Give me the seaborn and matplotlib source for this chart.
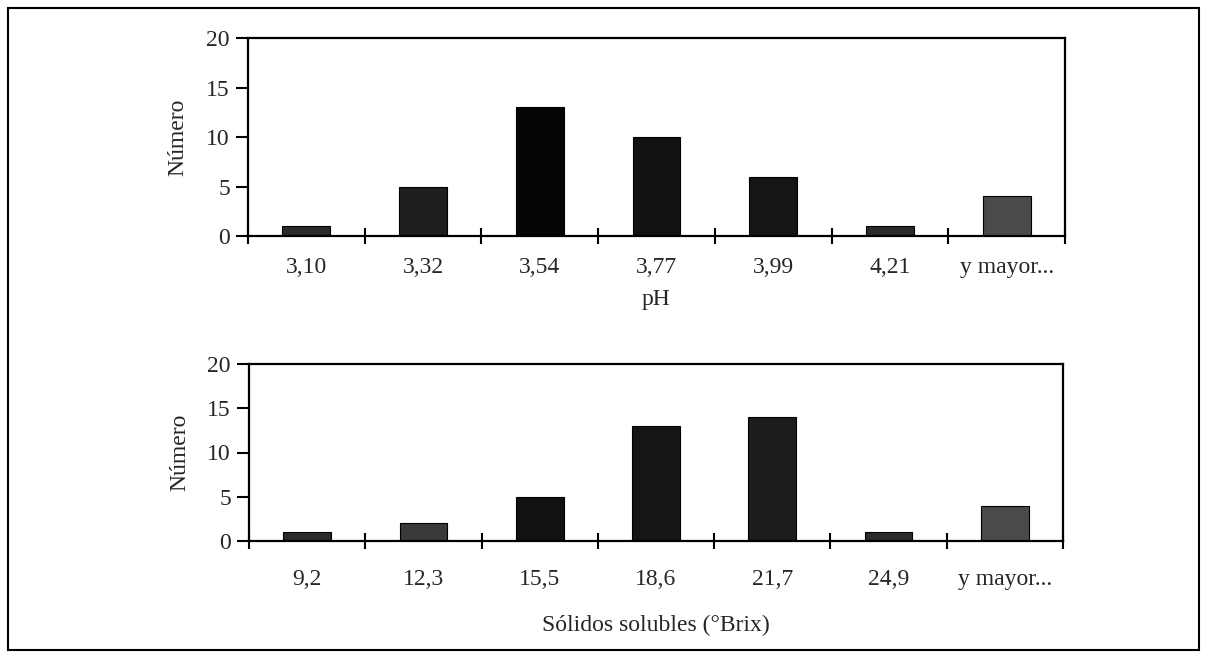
import matplotlib
matplotlib.use("Agg")
import matplotlib.pyplot as plt
import seaborn as sns
import pandas as pd
from matplotlib.patches import Rectangle

ph_labels = ["3,10", "3,32", "3,54", "3,77", "3,99", "4,21", "y mayor..."]
ph_counts = [1, 5, 13, 10, 6, 1, 4]
brix_labels = ["9,2", "12,3", "15,5", "18,6", "21,7", "24,9", "y mayor..."]
brix_counts = [1, 2, 5, 13, 14, 1, 4]
ph_colors = ["#2a2a2a", "#1e1e1e", "#050505", "#111111", "#151515", "#2a2a2a", "#4a4a4a"]
brix_colors = ["#2a2a2a", "#3a3a3a", "#111111", "#151515", "#1c1c1c", "#2a2a2a", "#4a4a4a"]

sns.set_theme(style="white")
plt.rcParams["font.family"] = ["Liberation Serif", "DejaVu Serif"]

fig = plt.figure(figsize=(12.08, 6.59), dpi=100)
W, H = 1208, 659
ax1 = fig.add_axes([248 / W, 1 - 236 / H, (1065 - 248) / W, (236 - 38) / H])
ax2 = fig.add_axes([249 / W, 1 - 541 / H, (1063 - 249) / W, (541 - 364) / H])

fs = 17
for ax, labels, counts, colors, xlabel, tpad, lpad, ylpad in [
    (ax1, ph_labels, ph_counts, ph_colors, "pH", 15, 8, 13),
    (ax2, brix_labels, brix_counts, brix_colors, "Sólidos solubles (°Brix)", 20, 18, 12),
]:
    df = pd.DataFrame({"cat": labels, "n": counts})
    sns.barplot(data=df, x="cat", y="n", hue="cat", palette=colors, dodge=False,
                legend=False, width=0.41, ax=ax, saturation=1,
                edgecolor="black", linewidth=0.8)
    ax.set_xlim(-0.5, len(labels) - 0.5)
    ax.set_ylim(0, 20)
    ax.set_yticks([0, 5, 10, 15, 20])
    ax.set_yticklabels(["0", "5", "10", "15", "20"], fontsize=fs)
    ax.set_xticks(range(len(labels)))
    ax.set_xticklabels(labels, fontsize=fs)
    ax.set_xticks([i - 0.5 for i in range(len(labels) + 1)], minor=True)
    ax.tick_params(axis="x", which="major", length=0, pad=tpad)
    ax.tick_params(axis="x", which="minor", length=12, width=1.5, direction="inout", color="black", bottom=True)
    ax.tick_params(axis="y", which="major", length=9, width=1.5, direction="out", color="black", left=True, pad=4)
    for s in ax.spines.values():
        s.set_visible(True)
        s.set_color("black")
        s.set_linewidth(1.6)
    ax.set_ylabel("Número", fontsize=fs, labelpad=ylpad)
    ax.set_xlabel(xlabel, fontsize=fs, labelpad=lpad)

fig.patches.append(Rectangle((8 / W, 1 - 650 / H), (1199 - 8) / W, (650 - 8) / H,
                             transform=fig.transFigure, fill=False,
                             edgecolor="black", linewidth=1.5))

fig.savefig("out.png", dpi=100)
